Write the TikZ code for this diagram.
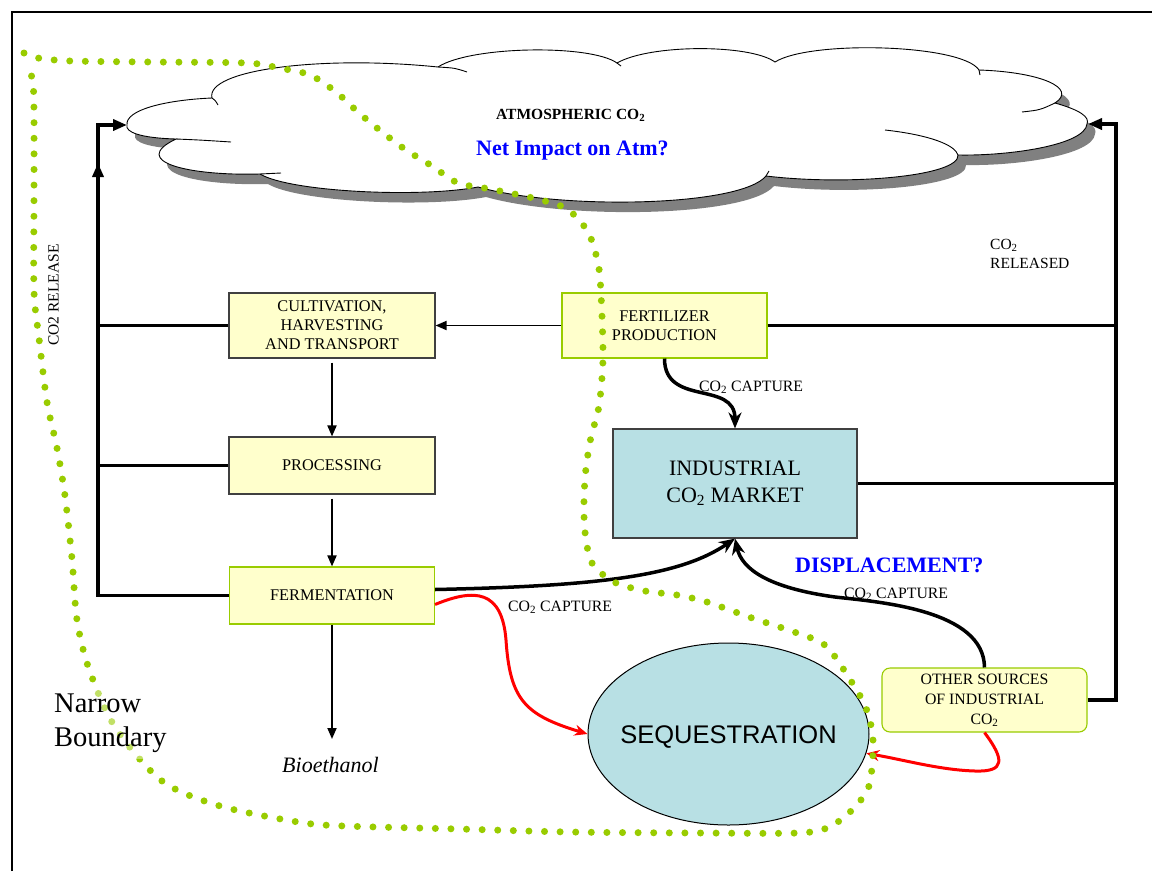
\documentclass[tikz,border=0pt]{standalone}
\usepackage{fontspec}
\setmainfont{Liberation Serif}
\newfontfamily\arialf{Liberation Sans}
\usetikzlibrary{arrows.meta,shapes.geometric}
\definecolor{boxyellow}{HTML}{FFFFCC}
\definecolor{ygreen}{HTML}{99CC00}
\definecolor{seqblue}{HTML}{B8E0E4}
\definecolor{dkgray}{HTML}{404040}
\definecolor{shadowgray}{HTML}{808080}
\definecolor{atmblue}{HTML}{0000FF}
\begin{document}
\begin{tikzpicture}[x=1pt,y=-1pt,
  box/.style={draw=dkgray, fill=boxyellow, line width=1.1pt, align=center, inner sep=1pt,
    font=\fontsize{16.3}{19}\selectfont, minimum width=206pt},
  gbox/.style={box, draw=ygreen},
  thickline/.style={line width=3.5pt},
  thickarr/.style={line width=3.5pt, -{Triangle[length=14pt,width=11pt]}},
  thinarr/.style={line width=1.8pt, -{Triangle[length=11pt,width=9pt]}},
  bigarr/.style={line width=3.5pt, -{Stealth[length=16pt,width=13pt]}},
  redarr/.style={red, line width=3pt, -{Stealth[length=13pt,width=11pt]}},
  lbl/.style={anchor=base west, inner sep=0pt, font=\fontsize{15.8}{19}\selectfont},
  cloudpath/.style={insert path={(127,125)
    .. controls (125,110) and (165,100) .. (212,98)
    .. controls (205,70) and (320,55) .. (438,67)
    .. controls (470,46) and (590,44) .. (617,63)
    .. controls (650,44) and (750,44) .. (775,62)
    .. controls (810,40) and (962,44) .. (979,70)
    .. controls (1040,72) and (1078,88) .. (1055,103)
    .. controls (1080,110) and (1090,117) .. (1087,124)
    .. controls (1085,145) and (1010,156) .. (958,155)
    .. controls (960,176) and (850,186) .. (766,176)
    .. controls (740,207) and (560,210) .. (478,187)
    .. controls (420,198) and (290,192) .. (260,174)
    .. controls (190,176) and (128,162) .. (176,139)
    .. controls (140,138) and (125,132) .. (127,125) -- cycle}},
  boundary/.style={ygreen, line width=7pt, line cap=round, dash pattern=on 0pt off 15.6pt}
]
\useasboundingbox (0,0) rectangle (1152,871);
\fill[white] (0,0) rectangle (1152,871);
% frame
\draw[line width=1.8pt] (12,871) -- (12,12) -- (1152,12);

% cloud
\begin{scope}[shift={(8,10)}]
  \fill[shadowgray, cloudpath];
\end{scope}
\filldraw[fill=white, draw=black, line width=0.9pt, cloudpath];
\draw[line width=0.9pt]
  (212,98) .. controls (215,100) .. (218,105)
  (438,67) .. controls (455,68) .. (467,72)
  (617,63) -- (621,66)
  (979,70) -- (980,75)
  (1022,112) .. controls (1040,110) .. (1055,103)
  (885,130) .. controls (930,135) and (955,145) .. (958,155)
  (766,176) -- (769,171)
  (176,139) .. controls (200,140) .. (231,142)
  (260,174) .. controls (270,174) .. (281,173);
\coordinate (cloudL) at (127,125);
\coordinate (cloudR) at (1088,124);
\coordinate (ltop) at (98,125);
\coordinate (rtop) at (1116,124);

\node[lbl, font=\bfseries\fontsize{15.5}{19}\selectfont] (atm) at (496,119) {ATMOSPHERIC CO\textsubscript{2}};
\node[lbl, font=\bfseries\fontsize{22}{26}\selectfont, text=atmblue] (net) at (476,155) {Net Impact on Atm?};

% boxes
\node[box, minimum height=65pt] (cult) at (332,325.5) {CULTIVATION,\\HARVESTING\\AND TRANSPORT};
\node[box, minimum height=57pt] (proc) at (332,465.5) {PROCESSING};
\node[gbox, minimum height=57pt, minimum width=205pt] (ferm) at (332,595.5) {FERMENTATION};
\node[gbox, minimum height=65pt, minimum width=205pt] (fert) at (664.5,325.5) {FERTILIZER\\PRODUCTION};
\node[draw=dkgray, fill=seqblue, line width=1.1pt, minimum width=244pt, minimum height=109pt, align=center,
  font=\fontsize{22}{27}\selectfont] (market) at (735,483.5) {INDUSTRIAL\\CO\textsubscript{2} MARKET};
\node[gbox, rounded corners=8pt, minimum height=64pt, minimum width=205pt, font=\fontsize{15.8}{20}\selectfont]
  (other) at (984.5,700) {OTHER SOURCES\\OF INDUSTRIAL\\CO\textsubscript{2}};
\node[ellipse, draw=black, fill=seqblue, line width=1pt, minimum width=281pt, minimum height=182pt, inner sep=0pt]
  (seq) at (728.5,734) {};
\node[font=\arialf\fontsize{25.5}{30}\selectfont, inner sep=0pt] (seqtxt) at ([yshift=-3pt]seq.center) {SEQUESTRATION};
\node[anchor=base west, inner sep=0pt, font=\itshape\fontsize{22}{26}\selectfont] (bio) at (282,772) {Bioethanol};

% left release lines
\draw[thickarr] (ferm.west) -| (ltop) -- (cloudL);
\draw[thickline] (cult.west) -- (cult.west -| ltop);
\draw[thickline] (proc.west) -- (proc.west -| ltop);
\draw[line width=3.5pt, -{Triangle[length=14pt,width=11pt]}] ([yshift=-62pt]ltop) -- ([yshift=-38pt]ltop);
\node[rotate=90, font=\fontsize{15.5}{19}\selectfont, inner sep=0pt] (rel) at (53.5,295) {CO2 RELEASE};

% right release lines
\draw[thickarr] (other.east) -| (rtop) -- (cloudR);
\draw[thickline] (fert.east) -- (fert.east -| rtop);
\draw[thickline] (market.east) -- (market.east -| rtop);
\node[anchor=base west, align=left, inner sep=0pt, font=\fontsize{15.5}{19}\selectfont] (rld) at (990,268) {CO\textsubscript{2}\\RELEASED};

% process chain
\draw[thinarr] (fert.west) -- (cult.east);
\draw[thinarr] ([yshift=-4pt]cult.south) -- (proc.north);
\draw[thinarr] ([yshift=-4pt]proc.south) -- (ferm.north);
\draw[thinarr] (ferm.south) -- (332,739);

% capture arrows
\draw[bigarr] (fert.south) to[out=-90, in=90, looseness=1.25] (market.north);
\node[lbl] (cap1) at (699,391) {CO\textsubscript{2} CAPTURE};
\draw[bigarr] ([yshift=6pt]ferm.east) .. controls (600,586) and (680,576) .. (market.south);
\node[lbl] (cap2) at (508,611) {CO\textsubscript{2} CAPTURE};
\draw[bigarr] (other.north) .. controls (984,610) and (880,602) .. (835,597)
  .. controls (770,588) and (742,570) .. (market.south);
\node[lbl] (cap3) at (844,598) {CO\textsubscript{2} CAPTURE};
\node[lbl, font=\bfseries\fontsize{22}{26}\selectfont, text=atmblue] (disp) at (795,572) {DISPLACEMENT?};

% red sequestration arrows
\draw[redarr] ([yshift=-9pt]ferm.east) .. controls (475,588) and (502,590) .. (506,640)
  .. controls (510,700) and (525,715) .. (seq.west);
\draw[redarr] (other.south) .. controls (1005,760) and (1005,772) .. (975,771)
  .. controls (940,770) and (905,760) .. (seq.-8);

% narrow boundary
\draw[boundary] plot[smooth, tension=0.5] coordinates {
 (24,53) (38,58) (71,61) (150,62) (247,63) (279,68) (310,75) (336,92) (359,113) (382,132)
 (406,150) (432,166) (458,183) (490,189) (537,199) (567,209) (588,232) (598,263) (601,294)
 (603,358) (599,406) (591,437) (586,468) (584,500) (585,532) (592,563) (614,582) (645,591)
 (677,595) (707,602) (752,618) (797,633) (826,646) (851,681) (866,708) (873,740) (869,786)
 (850,812) (827,828) (797,833) (700,833) (570,832) (459,829) (344,826) (298,822) (220,806)
 (162,781) (115,727) (89,669) (77,620) (72,559) (65,496) (57,448) (47,402) (39,338) (34,291)
 (34,200) (34,114) (33,83) (29,68)};
\node[anchor=north west, align=left, inner sep=6pt, fill=white, fill opacity=0.4, text opacity=1,
  font=\fontsize{28.5}{34}\selectfont] (nb) at (48,688) {Narrow\\Boundary};
\end{tikzpicture}
\end{document}
